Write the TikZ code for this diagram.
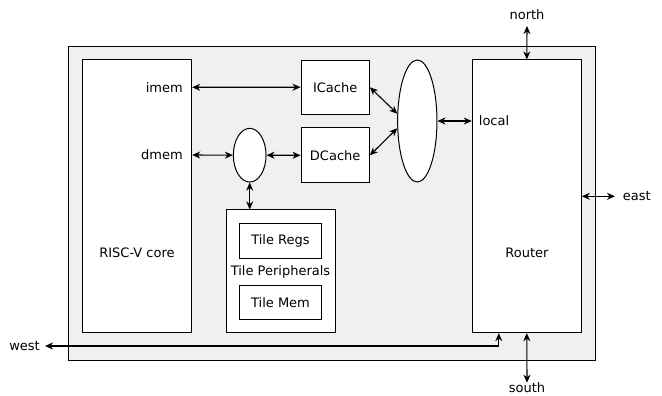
\documentclass[tikz,border=0pt]{standalone}
\usepackage{fontspec}
\setmainfont{DejaVu Sans}
\usetikzlibrary{arrows.meta,shapes.geometric,calc}
\definecolor{tilegray}{HTML}{F0F0F0}

\begin{document}
\begin{tikzpicture}[x=1pt,y=-1pt,
  box/.style={draw, line width=1pt, fill=white, inner sep=0pt},
  bus/.style={draw, ellipse, line width=1pt, fill=white, inner sep=0pt},
  link/.style={line width=1.1pt, {Stealth[length=8pt,width=7pt,inset=2.5pt]}-{Stealth[length=8pt,width=7pt,inset=2.5pt]}},
  lbl/.style={inner sep=0pt, font=\fontsize{13}{15}\selectfont}]
\useasboundingbox (0,0) rectangle (662,396);
% tile and blocks
\node[box, fill=tilegray, minimum width=527.3, minimum height=314.3] (tile) at (331.7,203.2) {};
\node[box, minimum width=109.4, minimum height=272.7] (core) at (137,196.3) {};
\node[box, minimum width=109, minimum height=272.7] (router) at (526.8,196.3) {};
\node[box, lbl, minimum width=68.3, minimum height=54.3] (icache) at (335.2,87.2) {ICache};
\node[box, lbl, minimum width=68.3, minimum height=54.7] (dcache) at (335.2,155.3) {DCache};
\node[bus, minimum width=32.7, minimum height=53.7] (xbar) at (249.7,155.2) {};
\node[bus, minimum width=39.3, minimum height=122] (mux) at (417.3,121) {};
\node[box, minimum width=109, minimum height=122.7] (periph) at (280.5,271.3) {};
\node[box, lbl, minimum width=82.4, minimum height=34.7] (regs) at (280.5,240.7) {Tile Regs};
\node[box, lbl, minimum width=82.4, minimum height=34.3] (mem) at (280.5,302.2) {Tile Mem};
% labels
\node[lbl] (corelbl) at (137,252.7) {RISC-V core};
\node[lbl] (routerlbl) at (527,252.7) {Router};
\node[lbl] (periphlbl) at (280.5,272.3) {Tile Peripherals};
\node[lbl, anchor=east] (imem) at (183,87.3) {imem};
\node[lbl, anchor=east] (dmem) at (183,155) {dmem};
\node[lbl, anchor=west] (local) at (478.7,121) {local};
\node[lbl] (north) at (527,15) {north};
\node[lbl] (south) at (527,388) {south};
\node[lbl, anchor=west] (east) at (622.7,196) {east};
\node[lbl, anchor=east] (west) at (40,346) {west};
% port ends
\coordinate (northpt) at (527,26);
\coordinate (southpt) at (527,382.7);
\coordinate (eastpt) at (615,196.3);
\coordinate (westpt) at (45,346);
\coordinate (westin) at ($(router.south west)+(27,0)$);
% connectors
\draw[link] (core.east |- imem) -- (icache.west);
\draw[link] (core.east |- dmem) -- (xbar.west);
\draw[link] (xbar.east) -- (dcache.west);
\draw[link] (xbar.south) -- (xbar.south |- periph.north);
\draw[link] (icache.east) -- (mux.160);
\draw[link] (dcache.east) -- (mux.200);
\draw[link] (mux.east) -- (router.west |- mux.east);
\draw[link] (router.north) -- (northpt);
\draw[link] (router.south) -- (southpt);
\draw[link] (router.east) -- (eastpt);
\draw[link] (westpt) -| (westin);
\end{tikzpicture}
\end{document}
